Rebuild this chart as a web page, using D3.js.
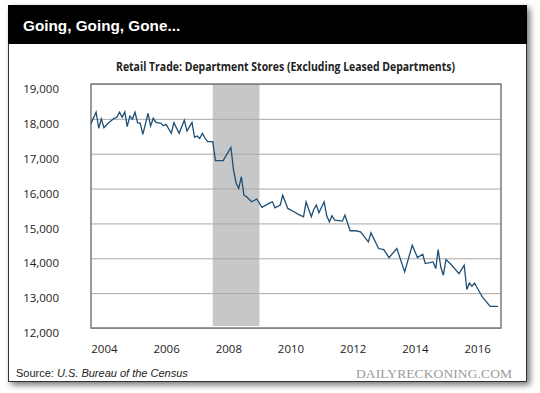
<!DOCTYPE html>
<html>
<head>
<meta charset="utf-8">
<script src="https://cdn.jsdelivr.net/npm/d3@7"></script>
<style>
  body { margin: 0; background: #fff; }
  svg { display: block; }
</style>
</head>
<body>
<div id="chart"></div>
<script>
// values (monthly points where the line turns)
var months = ["2004-01","2004-03","2004-04","2004-05","2004-06","2004-08","2004-10","2004-11","2004-12",
  "2005-01","2005-02","2005-03","2005-04","2005-05","2005-06","2005-07","2005-08","2005-09","2005-11","2005-12",
  "2006-01","2006-02","2006-04","2006-05","2006-06","2006-08","2006-09","2006-11",
  "2007-01","2007-02","2007-04","2007-05","2007-06","2007-07","2007-08","2007-09","2007-10","2007-12",
  "2008-01","2008-04","2008-07","2008-08","2008-09","2008-10","2008-11","2008-12",
  "2009-01","2009-03","2009-05","2009-07","2009-10","2009-11","2009-12",
  "2010-02","2010-03","2010-05","2010-07","2010-09","2010-11","2010-12",
  "2011-02","2011-03","2011-04","2011-05","2011-07","2011-08","2011-09","2011-10","2011-11",
  "2012-02","2012-03","2012-05","2012-07","2012-09","2012-12",
  "2013-01","2013-04","2013-06","2013-08","2013-11",
  "2014-02","2014-05","2014-07","2014-09","2014-10",
  "2015-01","2015-02","2015-03","2015-04","2015-05","2015-06","2015-08","2015-11",
  "2016-01","2016-02","2016-03","2016-04","2016-05","2016-08","2016-11","2017-02"];
var sales = [17870,18190,17730,18000,17745,17900,18015,18050,18190,
  18045,18200,17775,18080,17990,18190,17890,17870,17555,18160,17795,
  18015,17900,17870,17800,17840,17585,17890,17585,
  17965,17650,17900,17470,17510,17440,17585,17450,17345,17345,
  16800,16800,17180,16530,16150,16005,16340,15810,
  15765,15620,15700,15460,15590,15620,15450,
  15525,15810,15430,15350,15260,15190,15620,
  15190,15400,15525,15305,15620,15210,15045,15220,15095,
  15065,15240,14790,14790,14760,14470,
  14730,14280,14250,14020,14280,
  13610,14375,14020,14115,13850,
  13895,13705,14250,13750,13515,13965,13820,13560,
  13800,13105,13290,13200,13290,12890,12620,12620];
var yTicks = [12000, 13000, 14000, 15000, 16000, 17000, 18000, 19000];
var xYears = [2004, 2006, 2008, 2010, 2012, 2014, 2016];
var recession = ["2007-12", "2009-06"];

var parse = d3.timeParse("%Y-%m");
var data = months.map(function(m, i) { return {date: parse(m), value: sales[i]}; });

var W = 540, H = 393;
var plotLeft = 91, plotTop = 84, plotRight = 501, plotBottom = 328;
var plotW = plotRight - plotLeft, plotH = plotBottom - plotTop;

var svg = d3.select("#chart").append("svg")
    .attr("width", W)
    .attr("height", H);

var defs = svg.append("defs");
var f = defs.append("filter").attr("id", "shadow")
    .attr("x", "-5%").attr("y", "-5%").attr("width", "115%").attr("height", "115%");
f.append("feDropShadow")
    .attr("dx", 3).attr("dy", 3)
    .attr("stdDeviation", 3)
    .attr("flood-color", "#000")
    .attr("flood-opacity", 0.55);

// card
svg.append("rect")
    .attr("x", 8.5).attr("y", 5.5)
    .attr("width", 518).attr("height", 376)
    .attr("fill", "#fff")
    .attr("stroke", "#333")
    .attr("stroke-width", 1)
    .attr("filter", "url(#shadow)");

svg.append("rect")
    .attr("x", 8).attr("y", 5)
    .attr("width", 519).attr("height", 39)
    .attr("fill", "#000");

svg.append("text")
    .attr("x", 23).attr("y", 31)
    .attr("fill", "#fff")
    .attr("font-family", "Liberation Sans, Arial, sans-serif")
    .attr("font-weight", "bold")
    .attr("font-size", "15.3px")
    .text("Going, Going, Gone...");

svg.append("text")
    .attr("x", 116).attr("y", 71)
    .attr("fill", "#222")
    .attr("font-family", "Open Sans, sans-serif")
    .attr("font-weight", "bold")
    .attr("font-size", "11.5px")
    .attr("textLength", 339)
    .attr("lengthAdjust", "spacingAndGlyphs")
    .text("Retail Trade: Department Stores (Excluding Leased Departments)");

var x = d3.scaleTime()
    .domain([parse("2004-01"), parse("2017-02")])
    .range([0, 407]);
var y = d3.scaleLinear()
    .domain([12000, 19000])
    .range([plotH, 0]);

var g = svg.append("g")
    .attr("transform", "translate(" + plotLeft + "," + plotTop + ")");

// recession shading
g.append("rect")
    .attr("x", x(parse(recession[0])))
    .attr("y", 1)
    .attr("width", x(parse(recession[1])) - x(parse(recession[0])))
    .attr("height", plotH - 3)
    .attr("fill", "#c6c7c9");

// gridlines
g.append("g")
    .attr("class", "grid")
    .call(d3.axisLeft(y).tickValues(yTicks).tickSize(-plotW).tickFormat(""))
    .call(function(s) {
        s.select(".domain").remove();
        s.selectAll("line").attr("stroke", "#a8a8a8").attr("stroke-width", 1);
    });

// frame
g.append("rect")
    .attr("x", 0).attr("y", 0)
    .attr("width", plotW).attr("height", plotH)
    .attr("fill", "none")
    .attr("stroke", "#7a7a7a")
    .attr("stroke-width", 1.5);

var line = d3.line()
    .x(function(d) { return x(d.date); })
    .y(function(d) { return y(d.value); });

g.append("path")
    .datum(data)
    .attr("fill", "none")
    .attr("stroke", "#1d4f76")
    .attr("stroke-width", 1.3)
    .attr("stroke-linejoin", "miter")
    .attr("d", line);

// y labels
g.append("g")
    .attr("transform", "translate(-29,0)")
    .call(d3.axisLeft(y).tickValues(yTicks).tickSize(0).tickFormat(d3.format(",")))
    .call(function(s) {
        s.select(".domain").remove();
        s.selectAll("text")
            .attr("dy", "0.75em")
            .attr("fill", "#222")
            .attr("font-family", "Open Sans, sans-serif")
            .attr("font-size", "11.5px");
    });

// x labels
g.append("g")
    .attr("transform", "translate(0," + plotH + ")")
    .call(d3.axisBottom(x)
        .tickValues(xYears.map(function(yr) { return new Date(yr, 5, 1); }))
        .tickSize(0)
        .tickFormat(d3.timeFormat("%Y")))
    .call(function(s) {
        s.select(".domain").remove();
        s.selectAll("text")
            .attr("dy", "1.9em")
            .attr("fill", "#222")
            .attr("font-family", "Open Sans, sans-serif")
            .attr("font-size", "11.5px");
    });

var src = svg.append("text")
    .attr("x", 16).attr("y", 377)
    .attr("fill", "#222")
    .attr("font-family", "Liberation Sans, Arial, sans-serif")
    .attr("font-size", "11px");
src.append("tspan").text("Source: ");
src.append("tspan").attr("font-style", "italic").text("U.S. Bureau of the Census");

svg.append("text")
    .attr("x", 512).attr("y", 378)
    .attr("text-anchor", "end")
    .attr("fill", "#9a9a9a")
    .attr("font-family", "Liberation Serif, serif")
    .attr("font-size", "13.5px")
    .attr("textLength", 156)
    .attr("lengthAdjust", "spacing")
    .text("DAILYRECKONING.COM");
</script>
</body>
</html>
